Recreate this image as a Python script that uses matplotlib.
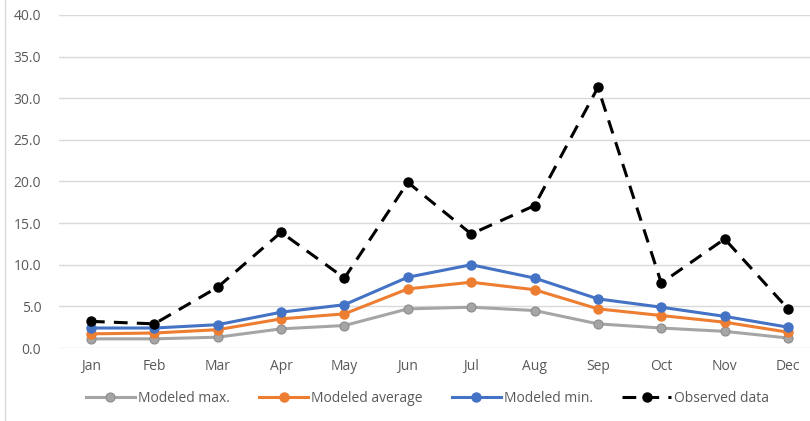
import matplotlib.pyplot as plt
from matplotlib.lines import Line2D

months = ['Jan', 'Feb', 'Mar', 'Apr', 'May', 'Jun', 'Jul', 'Aug', 'Sep', 'Oct', 'Nov', 'Dec']
modeled_max = [1.1, 1.1, 1.3, 2.3, 2.7, 4.7, 4.9, 4.5, 2.9, 2.4, 2.0, 1.2]
modeled_avg = [1.7, 1.8, 2.2, 3.5, 4.1, 7.1, 7.9, 7.0, 4.7, 3.9, 3.1, 1.9]
modeled_min = [2.4, 2.4, 2.8, 4.3, 5.2, 8.5, 10.0, 8.4, 5.9, 4.9, 3.8, 2.5]
observed = [3.2, 2.9, 7.3, 13.9, 8.4, 19.9, 13.7, 17.1, 31.3, 7.8, 13.1, 4.7]

plt.rcParams['font.family'] = ['Open Sans', 'DejaVu Sans']

fig = plt.figure(figsize=(8.1, 4.21), dpi=100)
ax = fig.add_axes([59.3 / 810, 73 / 421, 760.4 / 810, 333 / 421])

x = range(len(months))
ax.plot(x, modeled_max, color='#A5A5A5', lw=2.2, marker='o', ms=6.5,
        mec='#8c8c8c', mew=0.8, label='Modeled max.')
ax.plot(x, modeled_avg, color='#ED7D31', lw=2.2, marker='o', ms=6.5,
        label='Modeled average')
ax.plot(x, modeled_min, color='#4472C4', lw=2.2, marker='o', ms=6.5,
        label='Modeled min.')
ax.plot(x, observed, color='black', lw=2.2, ls=(0, (4.5, 3)), marker='o', ms=6.5,
        label='Observed data')

ax.set_xlim(-0.5, len(months) - 0.5)
ax.set_ylim(0, 40)
ax.set_yticks([0, 5, 10, 15, 20, 25, 30, 35, 40])
ax.set_yticklabels(['%.1f' % v for v in ax.get_yticks()])
ax.set_xticks(list(x))
ax.set_xticklabels(months)
ax.tick_params(length=0, colors='#595959', labelsize=10)
ax.tick_params(axis='y', pad=13)
ax.tick_params(axis='x', pad=8)
ax.grid(axis='y', color='#d9d9d9', lw=1)
ax.set_axisbelow(True)
for s in ax.spines.values():
    s.set_visible(False)

leg = fig.legend(loc='center', bbox_to_anchor=(0.528, 23 / 421), ncol=4,
                 frameon=False, fontsize=10, handlelength=3.5, columnspacing=2.1,
                 handletextpad=0.25)
for t in leg.get_texts():
    t.set_color('#595959')

fig.add_artist(Line2D([5 / 810, 5 / 810], [0, 1], color='#d9d9d9', lw=1))

fig.savefig('out.png', dpi=100)
